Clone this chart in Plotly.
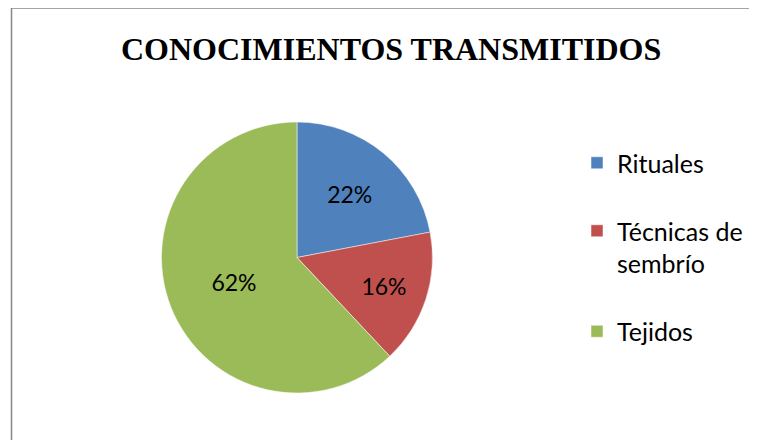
import plotly.graph_objects as go

categorias = ["Rituales", "Técnicas de<br>sembrío", "Tejidos"]
valores = [22, 16, 62]
colores = ["#4F81BD", "#C0504D", "#9BBB59"]

# la página deja 8 px de margen alrededor de la figura
OFF = 8
W, H = 757 - OFF, 440 - OFF


def fx(x):
    return (x - OFF) / W


def fy(y):
    return 1 - (y - OFF) / H


# espacio extra bajo cada entrada de la leyenda (como en Excel)
etiquetas = [categorias[0] + "<br> ", categorias[1] + "<br> ", categorias[2]]

fig = go.Figure()
fig.add_trace(go.Pie(
    labels=etiquetas,
    values=valores,
    customdata=[c.replace("<br>", " ") for c in categorias],
    hovertemplate="%{customdata}: %{percent}<extra></extra>",
    sort=False,
    direction="clockwise",
    rotation=0,
    marker=dict(colors=colores, line=dict(color="white", width=0.5)),
    textinfo="percent",
    textposition="inside",
    insidetextorientation="horizontal",
    textfont=dict(family="Lato, Noto Sans, sans-serif", size=23, color="black"),
    domain=dict(x=[fx(297 - 136), fx(297 + 136)],
                y=[fy(393), fy(122)]),
))

fig.update_layout(
    width=W,
    height=H,
    margin=dict(l=0, r=0, t=0, b=0),
    paper_bgcolor="white",
    plot_bgcolor="white",
    showlegend=True,
    legend=dict(
        x=fx(577), xanchor="left",
        y=fy(140), yanchor="top",
        valign="top",
        font=dict(family="Lato, Noto Sans, sans-serif", size=25, color="black"),
        bgcolor="rgba(0,0,0,0)",
    ),
    annotations=[dict(
        text="<b>CONOCIMIENTOS TRANSMITIDOS</b>",
        x=fx(390.5), y=fy(48.5), xref="paper", yref="paper",
        xanchor="center", yanchor="middle", showarrow=False,
        font=dict(family="Liberation Serif, Times New Roman, serif", size=32, color="black"),
    )],
    shapes=[dict(
        type="rect", xref="paper", yref="paper",
        x0=fx(11.5), x1=1.05, y0=-0.05, y1=fy(8),
        line=dict(color="#868686", width=1.5),
    )],
)

fig.write_html("out.html")
